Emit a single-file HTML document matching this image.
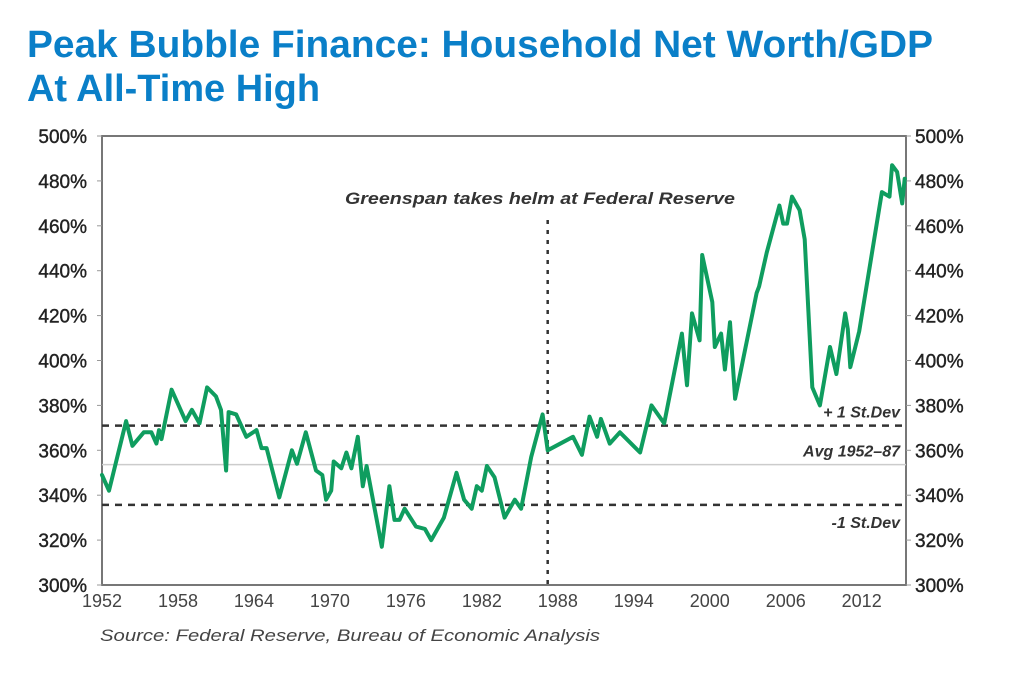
<!DOCTYPE html>
<html><head><meta charset="utf-8"><style>
html,body{margin:0;padding:0;background:#fff;}
svg{display:block;font-family:"Liberation Sans",sans-serif;}
</style></head><body>
<svg id="chart" width="1036" height="674" viewBox="0 0 1036 674">
<text x="27" y="57" font-size="38" font-weight="bold" fill="#0a7fc8" textLength="906" lengthAdjust="spacingAndGlyphs">Peak Bubble Finance: Household Net Worth/GDP</text>
<text x="27" y="101" font-size="38" font-weight="bold" fill="#0a7fc8" textLength="293" lengthAdjust="spacingAndGlyphs">At All-Time High</text>
<g id="plot"></g>
<text x="100" y="641" font-size="17" font-style="italic" fill="#444" textLength="500" lengthAdjust="spacingAndGlyphs">Source: Federal Reserve, Bureau of Economic Analysis</text>
</svg>
<script>
const years=[1952.0,1952.55,1953.9,1954.4,1955.3,1955.9,1956.3,1956.5,1956.7,1957.5,1958.6,1959.1,1959.7,1960.3,1961.0,1961.4,1961.8,1962.0,1962.6,1963.4,1964.2,1964.6,1965.0,1966.0,1967.0,1967.4,1968.1,1968.9,1969.4,1969.7,1970.1,1970.3,1970.9,1971.3,1971.7,1972.2,1972.6,1972.9,1974.1,1974.7,1975.1,1975.5,1975.9,1976.8,1977.5,1978.0,1979.0,1980.0,1980.6,1981.2,1981.6,1982.0,1982.4,1983.0,1983.8,1984.6,1985.1,1985.9,1986.8,1987.2,1989.2,1989.9,1990.5,1991.1,1991.4,1992.1,1992.9,1994.5,1995.4,1996.4,1997.8,1998.2,1998.6,1999.2,1999.4,2000.2,2000.4,2000.9,2001.2,2001.6,2002.0,2003.7,2003.9,2004.5,2005.5,2005.8,2006.1,2006.5,2007.1,2007.5,2008.1,2008.7,2009.5,2010.0,2010.7,2010.9,2011.1,2011.8,2013.6,2014.2,2014.4,2014.8,2015.2,2015.4];
const values=[349,342,373,362,368,368,363,369,365,387,373,378,372,388,384,378,351,377,376,366,369,361,361,339,360,354,368,351,349,338,342,355,352,359,352,366,344,353,317,344,329,329,334,326,325,320,330,350,338,334,344,342,353,348,330,338,334,357,376,360,366,358,375,366,374,363,368,359,380,372,412,389,421,409,447,426,406,412,396,417,383,430,433,448,469,461,461,473,467,454,388,380,406,394,421,414,397,413,475,473,487,484,470,481];
const yTicks=[300,320,340,360,380,400,420,440,460,480,500];
const xTickYears=[1952,1958,1964,1970,1976,1982,1988,1994,2000,2006,2012];
const refLevels=[371,353.6,335.7];
const refLabels=["+ 1 St.Dev","Avg 1952–87","-1 St.Dev"];
const greenspanYear=1987.2;

const L=102,R=906,T=136,B=585;
const X=yr=>L+(yr-1952)*(R-L)/(2015.5-1952);
const Y=v=>B-(v-300)*(B-T)/200;
const NS="http://www.w3.org/2000/svg";
const g=document.getElementById('plot');
function mk(tag,attrs,parent){const e=document.createElementNS(NS,tag);for(const k in attrs)e.setAttribute(k,attrs[k]);(parent||g).appendChild(e);return e;}

const frame=mk('rect',{x:L,y:T,width:R-L,height:B-T,fill:'none',stroke:'#777','stroke-width':2});



yTicks.forEach(v=>{
  const tl=mk('line',{x1:L-5,x2:L,y1:Y(v),y2:Y(v),stroke:'#999','stroke-width':1});
  
  
  const tr=mk('line',{x1:R,x2:R+5,y1:Y(v),y2:Y(v),stroke:'#999','stroke-width':1});
  
  
  const a=mk('text',{x:L-15,y:Y(v)+7,'text-anchor':'end','font-size':19,fill:'#222','stroke':'#222','stroke-width':0.4});
  a.textContent=v+'%';
  
  
  const b=mk('text',{x:R+9,y:Y(v)+7,'text-anchor':'start','font-size':19,fill:'#222','stroke':'#222','stroke-width':0.4});
  b.textContent=v+'%';
  
  
});
xTickYears.forEach(yr=>{
  const t=mk('text',{x:X(yr),y:B+22,'text-anchor':'middle','font-size':18,fill:'#444'});
  t.textContent=yr;
  
  
});

refLevels.forEach((v,i)=>{
  const ln=mk('line',{x1:L,x2:R,y1:Y(v),y2:Y(v),stroke:i===1?'#ccc':'#333','stroke-width':i===1?1.5:2.5,'stroke-dasharray':i===1?'none':'7,6'});
  
  
  const dy=i===2?23:-8;
  const t=mk('text',{x:R-6,y:Y(v)+dy,'text-anchor':'end','font-size':16,'font-style':'italic','font-weight':'bold',fill:'#333'});
  t.textContent=refLabels[i];
  
  
});

const gl=mk('line',{x1:X(greenspanYear),x2:X(greenspanYear),y1:220,y2:B,stroke:'#333','stroke-width':2.5,'stroke-dasharray':'4,6'});


const ga=mk('text',{x:345,y:204,'font-size':17,'font-style':'italic','font-weight':'bold',fill:'#333',textLength:390,lengthAdjust:'spacingAndGlyphs'});
ga.textContent='Greenspan takes helm at Federal Reserve';



const d=years.map((yr,i)=>(i?'L':'M')+X(yr).toFixed(1)+','+Y(values[i]).toFixed(1)).join(' ');
const p=mk('path',{d:d,fill:'none',stroke:'#0f9d5f','stroke-width':4,'stroke-linejoin':'round','stroke-linecap':'round'});


</script>
</body></html>
